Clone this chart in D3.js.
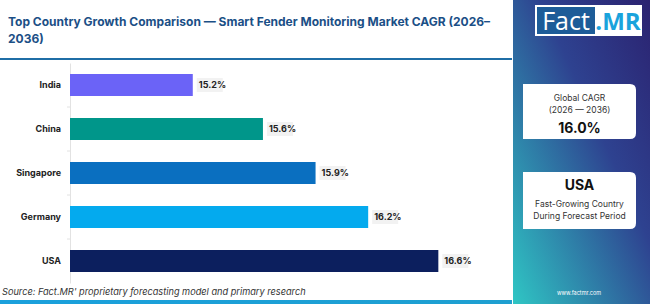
<!DOCTYPE html>
<html>
<head>
<meta charset="utf-8">
<script src="https://cdn.jsdelivr.net/npm/d3@7"></script>
<style>
  html, body { margin: 0; padding: 0; background: #fff; }
  svg { display: block; font-family: Inter, "Noto Sans", sans-serif; }
</style>
</head>
<body>
<svg id="chart" width="650" height="304"></svg>
<script>
// values
const countries = ["India", "China", "Singapore", "Germany", "USA"];
const cagr      = [15.2, 15.6, 15.9, 16.2, 16.6];
const colors    = ["#6b63f7", "#00968a", "#0a6fc0", "#04aaee", "#0c1f5e"];
const xDomain   = [14.5, 17.0];

const titleLines = ["Top Country Growth Comparison \u2014 Smart Fender Monitoring Market CAGR (2026\u2013", "2036)"];
const sourceText = "Source: Fact.MR' proprietary forecasting model and primary research";
const globalCagr = "16.0%";
const topCountry = "USA";

const svg = d3.select("#chart");
const defs = svg.append("defs");

// right panel gradient
const grad = defs.append("linearGradient")
  .attr("id", "side").attr("x1", "1").attr("y1", "0").attr("x2", "0").attr("y2", "1");
grad.append("stop").attr("offset", "0%").attr("stop-color", "#2b2270");
grad.append("stop").attr("offset", "40%").attr("stop-color", "#2e4290");
grad.append("stop").attr("offset", "100%").attr("stop-color", "#2fc6c4");

const band = defs.append("linearGradient").attr("id", "band");
band.append("stop").attr("offset", "0%").attr("stop-color", "#1aa0dc");
band.append("stop").attr("offset", "100%").attr("stop-color", "#1e9fd0");

svg.append("rect").attr("x", 513).attr("y", 0).attr("width", 137).attr("height", 304)
  .attr("fill", "url(#side)");

// title
svg.append("text")
  .attr("x", 8).attr("y", 26)
  .attr("fill", "#1b4f86").attr("font-size", 12).attr("font-weight", 700)
  .selectAll("tspan").data(titleLines).join("tspan")
  .attr("x", 8).attr("dy", (d, i) => i ? 16.5 : 0).text(d => d);

svg.append("rect").attr("x", 0).attr("y", 58).attr("width", 512).attr("height", 2).attr("fill", "#1f6ea6");
svg.append("rect").attr("x", 0).attr("y", 300).attr("width", 512).attr("height", 4).attr("fill", "url(#band)");

// chart
const x = d3.scaleLinear().domain(xDomain).range([70, 508.5]);
const y = d3.scaleBand().domain(countries).range([63, 283]).paddingInner(0.5).paddingOuter(0.25);

const yAxis = svg.append("g").attr("transform", "translate(70,0)")
  .call(d3.axisLeft(y).tickSize(0).tickPadding(9));
yAxis.select(".domain").attr("stroke", "#e2e2e2");
yAxis.selectAll("text").attr("font-size", 9).attr("font-weight", 700).attr("fill", "#222")
  .attr("font-family", "Inter, 'Noto Sans', sans-serif");

// small boundary ticks between bands
svg.append("g").selectAll("line").data(countries.slice(1)).join("line")
  .attr("x1", 67).attr("x2", 70)
  .attr("y1", d => y(d) - y.step() * y.paddingInner() / 2)
  .attr("y2", d => y(d) - y.step() * y.paddingInner() / 2)
  .attr("stroke", "#e2e2e2");

const rows = countries.map((c, i) => ({ c, v: cagr[i], col: colors[i] }));

svg.append("g").selectAll("rect").data(rows).join("rect")
  .attr("x", x(xDomain[0])).attr("y", d => y(d.c))
  .attr("width", d => x(d.v) - x(xDomain[0])).attr("height", y.bandwidth())
  .attr("fill", d => d.col);

const lab = svg.append("g").selectAll("g").data(rows).join("g")
  .attr("transform", d => `translate(${x(d.v) + 5},${y(d.c) + y.bandwidth() / 2})`);
lab.append("rect").attr("x", -1).attr("y", -7).attr("width", 26).attr("height", 14).attr("fill", "#f2f2f2");
lab.append("text").attr("x", 1).attr("dy", "0.35em")
  .attr("font-size", 9).attr("font-weight", 700).attr("fill", "#222")
  .text(d => d.v.toFixed(1) + "%");

// source
svg.append("text").attr("x", 2).attr("y", 295)
  .attr("font-size", 9.2).attr("font-style", "italic").attr("fill", "#333").text(sourceText);

// logo
svg.append("rect").attr("x", 535).attr("y", 5).attr("width", 107).attr("height", 31).attr("fill", "#fff");
svg.append("rect").attr("x", 537).attr("y", 7).attr("width", 58).attr("height", 27).attr("fill", "#1d5c98");
svg.append("text").attr("x", 566).attr("y", 30).attr("text-anchor", "middle")
  .attr("font-size", 25).attr("fill", "#fff").attr("font-family", "'Open Sans', sans-serif").text("Fact");
svg.append("text").attr("x", 618).attr("y", 30).attr("text-anchor", "middle")
  .attr("font-size", 24).attr("font-weight", 700).attr("fill", "#1aa3dc").attr("font-family", "'Open Sans', sans-serif").text(".MR");

// cards
function card(y0, h) {
  svg.append("path")
    .attr("d", `M523,${y0} H630 Q636,${y0} 636,${y0 + 6} V${y0 + h - 6} Q636,${y0 + h} 630,${y0 + h} H523 Z`)
    .attr("fill", "#fff");
}
card(84, 55);
card(172, 57);
const cx = 579.5;
svg.append("text").attr("x", cx).attr("y", 101).attr("text-anchor", "middle").attr("font-size", 8.5).attr("fill", "#333").text("Global CAGR");
svg.append("text").attr("x", cx).attr("y", 113).attr("text-anchor", "middle").attr("font-size", 8.5).attr("fill", "#333").text("(2026 \u2014 2036)");
svg.append("text").attr("x", cx).attr("y", 133).attr("text-anchor", "middle").attr("font-size", 14).attr("font-weight", 700).attr("fill", "#111").text(globalCagr);
svg.append("text").attr("x", cx).attr("y", 190).attr("text-anchor", "middle").attr("font-size", 14).attr("font-weight", 700).attr("fill", "#111").text(topCountry);
svg.append("text").attr("x", cx).attr("y", 207).attr("text-anchor", "middle").attr("font-size", 8.5).attr("fill", "#333").text("Fast-Growing Country");
svg.append("text").attr("x", cx).attr("y", 219).attr("text-anchor", "middle").attr("font-size", 8.5).attr("fill", "#333").text("During Forecast Period");

svg.append("text").attr("x", 579).attr("y", 295).attr("text-anchor", "middle").attr("font-size", 5.5).attr("fill", "#fff").text("www.factmr.com");
</script>
</body>
</html>
